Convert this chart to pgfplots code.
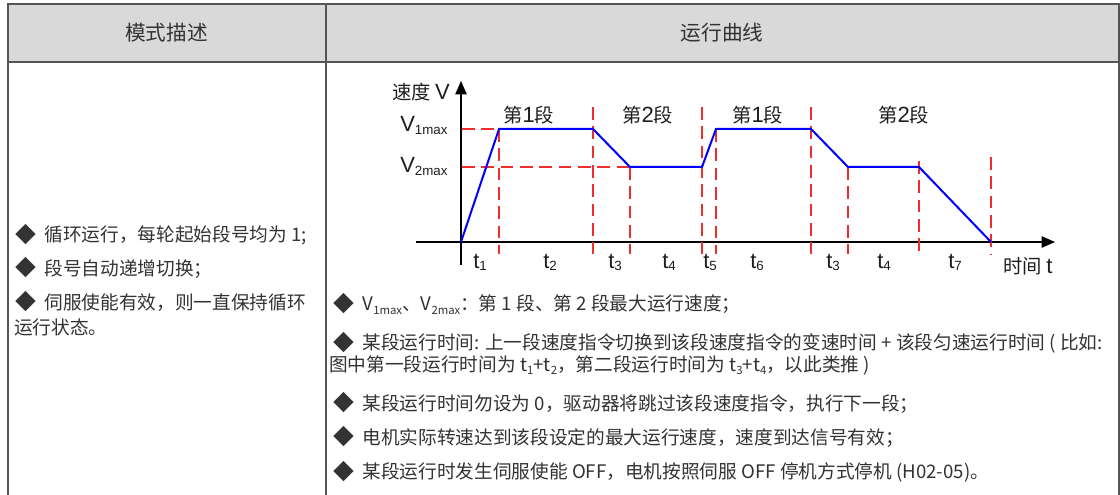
\documentclass[border=0pt]{standalone}
\usepackage{fontspec}
\setmainfont{Noto Sans CJK SC}
\newfontfamily\arial{Liberation Sans}
\usepackage{graphicx}
\usepackage{pgfplots}
\pgfplotsset{compat=1.18}
\usetikzlibrary{arrows.meta}
\definecolor{hdr}{RGB}{217,217,217}
\definecolor{rulec}{RGB}{85,85,85}
\definecolor{txt}{RGB}{51,51,51}
\definecolor{ctxt}{RGB}{30,30,30}
\definecolor{dashc}{RGB}{240,45,45}
\definecolor{prof}{RGB}{0,0,255}
% bullet
\newcommand{\dia}{\raisebox{-0.05em}{\scalebox{1.12}{◆}}\hspace{0.45em}}
% body subscript
\newcommand{\bsub}[1]{\raisebox{-2.5pt}{\fontsize{8.5}{8.5}\selectfont #1}}
% chart latin, chart CJK and chart subscript
\newcommand{\La}[1]{{\arial\fontsize{16.5}{18}\selectfont #1}}
\newcommand{\Cj}[1]{{\fontsize{14.5}{16}\selectfont #1}}
\newcommand{\csub}[1]{\raisebox{-2pt}{\arial\fontsize{10}{10}\selectfont #1}}
\pgfplotstableread{
x y
0 0
38 113
132 113
169 75
241 75
255 113
350 113
387 75
458 75
530 0
}\profile
\begin{document}
\begin{tikzpicture}
\begin{scope}[x=0.75pt,y=-0.75pt]
\useasboundingbox (0,0) rectangle (1120,495);
\fill[white] (0,0) rectangle (1120,495);
\fill[hdr] (8,4) rectangle (1119,62);
\draw[rulec, line width=0.9pt] (8,495) -- (8,4) -- (1119,4) -- (1119,495);
\draw[rulec, line width=0.9pt] (8,62) -- (1119,62);
\draw[rulec, line width=0.9pt] (326,4) -- (326,495);
\node[txt, inner sep=0pt, font=\fontsize{15.5}{18}\selectfont] at (166.5,33) {模式描述};
\node[txt, inner sep=0pt, font=\fontsize{15.5}{18}\selectfont] at (722,33) {运行曲线};
\begin{scope}[every node/.style={anchor=west, inner sep=0pt, text=txt, font=\fontsize{14}{16}\selectfont}]
% left column
\node at (15,235) {\dia 循环运行，每轮起始段号均为 1;};
\node at (15,268) {\dia 段号自动递增切换；};
\node at (15,302) {\dia 伺服使能有效，则一直保持循环};
\node at (14,327) {运行状态。};
% right column
\node at (333,304) {\dia V\bsub{1max}、V\bsub{2max}：第 1 段、第 2 段最大运行速度；};
\node at (333,343) {\dia 某段运行时间: 上一段速度指令切换到该段速度指令的变速时间 + 该段匀速运行时间 ( 比如:};
\node at (329,365) {图中第一段运行时间为 t\bsub{1}+t\bsub{2}，第二段运行时间为 t\bsub{3}+t\bsub{4}，以此类推 )};
\node at (333,403) {\dia 某段运行时间勿设为 0，驱动器将跳过该段速度指令，执行下一段；};
\node at (333,437) {\dia 电机实际转速达到该段设定的最大运行速度，速度到达信号有效；};
\node at (333,472) {\dia 某段运行时发生伺服使能 OFF，电机按照伺服 OFF 停机方式停机 (H02-05)。};
\end{scope}
\end{scope}
\begin{axis}[at={(345.75pt,-181.5pt)}, anchor=origin,
  x=0.75pt, y=0.75pt,
  xmin=-45, xmax=594, ymin=-23, ymax=161,
  axis lines=middle,
  axis line style={line width=1pt, -{Triangle[length=10pt,width=8.5pt]}},
  xtick=\empty, ytick=\empty, clip=false]
% dashed guides
\addplot[dashc, line width=0.8pt, dash pattern=on 9.5pt off 5pt] coordinates {(1,113) (38,113)};
\addplot[dashc, line width=0.8pt, dash pattern=on 9.5pt off 5pt] coordinates {(1,75) (169,75)};
\addplot[dashc, line width=0.8pt, dash pattern=on 9.5pt off 5pt] coordinates {(38,113) (38,-12)};
\addplot[dashc, line width=0.8pt, dash pattern=on 9.5pt off 5pt] coordinates {(132,135) (132,-12)};
\addplot[dashc, line width=0.8pt, dash pattern=on 9.5pt off 5pt] coordinates {(169,75) (169,-12)};
\addplot[dashc, line width=0.8pt, dash pattern=on 9.5pt off 5pt] coordinates {(241,135) (241,-12)};
\addplot[dashc, line width=0.8pt, dash pattern=on 9.5pt off 5pt] coordinates {(255,113) (255,-12)};
\addplot[dashc, line width=0.8pt, dash pattern=on 9.5pt off 5pt] coordinates {(350,135) (350,-12)};
\addplot[dashc, line width=0.8pt, dash pattern=on 9.5pt off 5pt] coordinates {(387,75) (387,-12)};
\addplot[dashc, line width=0.8pt, dash pattern=on 9.5pt off 5pt] coordinates {(458,81) (458,-12)};
\addplot[dashc, line width=0.8pt, dash pattern=on 9.5pt off 5pt] coordinates {(530,85) (530,-12)};
% velocity profile
\addplot[prof, line width=1.5pt, line join=miter] table[x=x,y=y] {\profile};
% labels
\begin{scope}[every node/.style={inner sep=0pt, text=ctxt}]
\node[anchor=base east] at (axis cs:-11,142) {\Cj{速度 }\La{V}};
\node[anchor=base west] at (axis cs:-61,110) {\La{V}\csub{1max}};
\node[anchor=base west] at (axis cs:-61,69) {\La{V}\csub{2max}};
\node[anchor=base west] at (axis cs:42,119) {\Cj{第}\La{1}\Cj{段}};
\node[anchor=base west] at (axis cs:161,119) {\Cj{第}\La{2}\Cj{段}};
\node[anchor=base west] at (axis cs:271,119) {\Cj{第}\La{1}\Cj{段}};
\node[anchor=base west] at (axis cs:417,119) {\Cj{第}\La{2}\Cj{段}};
\node[anchor=base west] at (axis cs:12,-26) {\La{t}\csub{1}};
\node[anchor=base west] at (axis cs:82,-26) {\La{t}\csub{2}};
\node[anchor=base west] at (axis cs:147,-26) {\La{t}\csub{3}};
\node[anchor=base west] at (axis cs:201,-26) {\La{t}\csub{4}};
\node[anchor=base west] at (axis cs:242,-26) {\La{t}\csub{5}};
\node[anchor=base west] at (axis cs:289,-26) {\La{t}\csub{6}};
\node[anchor=base west] at (axis cs:365,-26) {\La{t}\csub{3}};
\node[anchor=base west] at (axis cs:416,-26) {\La{t}\csub{4}};
\node[anchor=base west] at (axis cs:487,-26) {\La{t}\csub{7}};
\node[anchor=base west] at (axis cs:542,-31) {\Cj{时间 }\La{t}};
\end{scope}
\end{axis}
\end{tikzpicture}
\end{document}
